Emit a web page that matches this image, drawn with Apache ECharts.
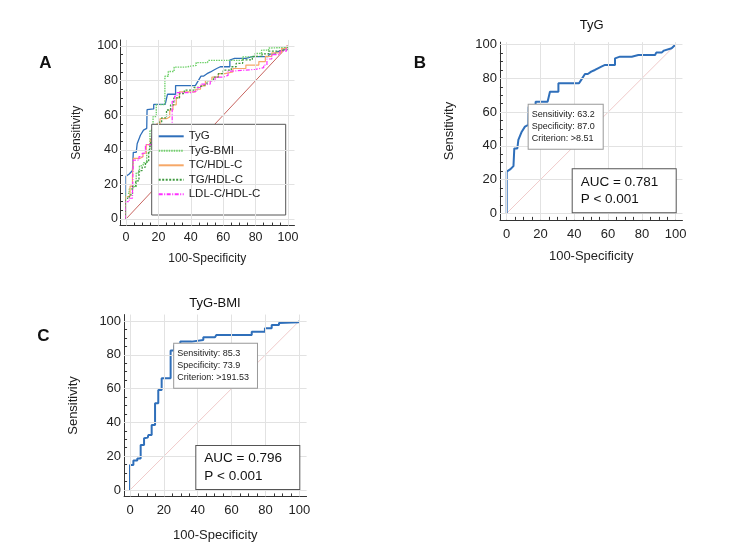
<!DOCTYPE html>
<html><head><meta charset="utf-8">
<script src="https://cdn.jsdelivr.net/npm/echarts@6/dist/echarts.min.js"></script>
<style>html,body{margin:0;padding:0;background:#fff}#c{width:753px;height:559px}</style>
</head><body><div id="c"></div>
<script>
// ---- data ----
const majorTicks = [0, 20, 40, 60, 80, 100];
const minorTicks = [5, 10, 15, 25, 30, 35, 45, 50, 55, 65, 70, 75, 85, 90, 95];
const seriesNames = ['TyG', 'TyG-BMI', 'TC/HDL-C', 'TG/HDL-C', 'LDL-C/HDL-C'];

const tyg = [[0,0],[0,24.7],[2,26],[4,28],[4.5,38.5],[6.3,38.5],[6.9,43.5],[8,44.5],[8.9,48.4],[10.8,51.4],[12.8,52.4],[13,63.2],[17.1,63.6],[17.1,66.2],[24.2,66.2],[25.6,72.1],[30.6,72.1],[30.6,77.1],[42.8,77.1],[44,79],[45,80],[46.3,82.6],[48,82.6],[50,84],[52.2,85],[54,86],[56,87],[58.2,88],[64.1,88],[64.1,91.9],[67,92.9],[74,92.9],[77.9,93.9],[87.8,93.9],[88.5,95.3],[91.7,95.3],[93,96.5],[97.6,97.9],[99.6,99.8],[100,100]];

const tygBmi = [[0,0],[0,14.8],[2,14.8],[2,17.4],[4.3,17.4],[4.3,18.7],[6.3,18.7],[6.3,26.6],[8.3,26.6],[8.3,30.6],[10.5,31],[10.8,32.5],[12.8,32.5],[12.8,38.5],[14.8,38.5],[14.8,51.3],[16.7,51.3],[16.7,59.2],[18.7,59.2],[18.7,66.1],[24,66.1],[24,82.5],[26.1,82.5],[26.1,85.3],[29.7,85.3],[29.7,87.8],[36.4,87.8],[36.4,88.8],[43.3,88.8],[43.3,90.4],[50.2,90.4],[51,91.7],[71.9,91.7],[71.9,93.7],[79.7,93.7],[79.7,95.7],[83.7,95.7],[83.7,97.6],[88,97.6],[88,98.8],[99.5,99.2],[100,100]];

const tcHdl = [[0,0],[0,13],[2.5,13],[2.5,19],[4,19],[4,25],[4.5,25],[4.5,35],[8.5,35],[8.5,36],[10.5,36],[10.5,38],[12.5,38],[12.5,43],[15,43],[15,46],[16.5,46],[16.5,51],[19,51],[19,55],[21,55],[21,58],[25,58],[25,59],[27,59],[27,63],[29,63],[29,66],[31,66],[31,70],[33,70],[33,73.5],[43,73.5],[43,75],[46,75],[46,77],[49,77],[49,80],[53,80],[53,82],[57,82],[57,84],[61,84],[61,85],[66,85],[66,87],[74,87],[74,89],[82,89],[82,91],[86,91],[86,94],[90,94],[90,96],[96,96],[96,98.5],[99,98.5],[99,100],[100,100]];

const tgHdl = [[0,0],[0,12],[2,12],[2,14],[4,14],[4,19],[6,19],[6,22],[8,22],[8,28],[10,28],[10,30],[12,30],[12,33],[14,33],[14,38],[15,38],[15,43],[16,43],[16,48],[18,48],[18,53],[20,53],[20,56],[22,56],[22,58.5],[25,58.5],[25,63],[27.5,63],[27.5,66],[29.5,66],[29.5,70],[33,70],[33,72.5],[36,72.5],[36,74.5],[42,74.5],[42,76],[45,76],[45,77],[47,77],[47,78],[50,78],[50,80],[54,80],[54,82],[57,82],[57,84],[60,84],[60,86],[65,86],[65,88],[68,88],[68,90],[72,90],[72,92],[78,92],[78,94],[84,94],[84,95.5],[88,95.5],[88,97],[94,97],[94,98],[100,98],[100,100]];

const ldlHdl = [[0,0],[0,10],[2,10],[2,12],[4,12],[4,15],[4.5,15],[4.5,34],[8,34],[8,36],[10,36],[10,38],[12,38],[12,43],[16,43],[16,48],[28.5,48],[28.5,68],[30,68],[30,71],[31.5,71],[31.5,73],[40,73],[40,74],[44,74],[44,76],[46,76],[46,78],[52,78],[52,80],[55,80],[55,82],[60,82],[60,83],[63,83],[63,85.5],[66,85.5],[66,86.5],[80,86.5],[80,87.5],[85,87.5],[85,89],[87,89],[87,92.5],[90,92.5],[90,95],[95,95],[95,97],[99,97],[99,100],[100,100]];

const diagonal = [[0,0],[100,100]];
const cutTyG = { sens: 63.2, spec: 87.0, crit: '>8.51' };
const cutBmi = { sens: 85.3, spec: 73.9, crit: '>191.53' };
const aucTyG = { auc: '0.781', p: '< 0.001' };
const aucBmi = { auc: '0.796', p: '< 0.001' };

// ---- layout ----
const FONT = 'Liberation Sans, Arial, sans-serif';
const panels = [
  { x0:126, x100:288, y0:219, y100:46, xe:[-3.7,104], ye:[-3.8,103.5], lab:12.5, nm:12, xm:5, ym:2, xg:27.5, yg:37 },
  { x0:506.7, x100:675.7, y0:213.3, y100:44.7, xe:[-4,104], ye:[-3.9,101.5], lab:13, nm:13, xm:8, ym:3, xg:30.5, yg:44 },
  { x0:130, x100:299.3, y0:490, y100:321, xe:[-3.5,104.3], ye:[-3.8,103.8], lab:13, nm:13, xm:7, ym:3, xg:32, yg:44 }
];
const grids = panels.map(p => {
  const sx = (p.x100 - p.x0) / 100, sy = (p.y0 - p.y100) / 100;
  return { left: p.x0 + p.xe[0]*sx, width: (p.xe[1]-p.xe[0])*sx,
           top: p.y0 - p.ye[1]*sy, height: (p.ye[1]-p.ye[0])*sy, containLabel:false };
});
const xAxes = [], yAxes = [];
panels.forEach((p, i) => {
  const common = (ext, fs, margin) => ({
    type:'value', gridIndex:i, min:ext[0], max:ext[1],
    axisLine:{ show:true, onZero:false, lineStyle:{ color:'#333', width:1 } },
    axisTick:{ show:true, inside:true, length:5, customValues:majorTicks, lineStyle:{ color:'#333' } },
    axisLabel:{ customValues:majorTicks, fontSize:fs, color:'#222', margin:margin, fontFamily:FONT },
    splitLine:{ show:false }, minorTick:{ show:false }
  });
  const minor = (ext) => ({
    type:'value', gridIndex:i, min:ext[0], max:ext[1],
    axisLine:{ show:false, onZero:false }, axisLabel:{ show:false }, splitLine:{ show:false },
    axisTick:{ show:true, inside:true, length:3, customValues:minorTicks, lineStyle:{ color:'#333' } }
  });
  xAxes.push(Object.assign(common(p.xe, p.lab, p.xm), { position:'bottom', name:'100-Specificity', nameLocation:'middle', nameGap:p.xg,
    nameTextStyle:{ fontSize:p.nm, color:'#222', fontFamily:FONT } }));
  xAxes.push(Object.assign(minor(p.xe), { position:'bottom' }));
  yAxes.push(Object.assign(common(p.ye, p.lab, p.ym), { position:'left', name:'Sensitivity', nameLocation:'middle', nameGap:p.yg,
    nameTextStyle:{ fontSize:p.nm, color:'#222', fontFamily:FONT } }));
  yAxes.push(Object.assign(minor(p.ye), { position:'left' }));
});

const gridLineData = majorTicks.map(v => ({ xAxis:v })).concat(majorTicks.map(v => ({ yAxis:v })));
function diagSeries(i, color, width) {
  return { type:'line', name:'ref' + i, xAxisIndex:i*2, yAxisIndex:i*2, data:diagonal, symbol:'none', z:1,
    lineStyle:{ color:color, width:width }, silent:true, animation:false,
    markLine:{ silent:true, symbol:['none','none'], label:{ show:false }, animation:false,
      lineStyle:{ color:'#e2e2e2', width:1, type:'solid' }, data:gridLineData } };
}
function curve(i, name, data, color, width, type) {
  return { type:'line', name:name, xAxisIndex:i*2, yAxisIndex:i*2, data:data, symbol:'none', showSymbol:false,
    z:2, animation:false, lineStyle:{ color:color, width:width, type:type || 'solid' }, itemStyle:{ color:color } };
}
function cutLabel(c) {
  return { coord:[100 - c.spec, c.sens], symbolSize:0,
    label:{ show:true, position:[0,-2], align:'left', verticalAlign:'top',
      formatter:'Sensitivity: ' + c.sens.toFixed(1) + '\nSpecificity: ' + c.spec.toFixed(1) + '\nCriterion: ' + c.crit,
      fontSize:9, lineHeight:12, color:'#222', fontFamily:FONT, backgroundColor:'#fff',
      borderColor:'#999', borderWidth:1, padding:[4,8,4,3] } };
}
function aucLabel(a) {
  return { coord:[100, 0], symbolSize:0,
    label:{ show:true, position:[-103,-1], align:'left', verticalAlign:'bottom', width:79,
      formatter:'AUC = ' + a.auc + '\nP ' + a.p,
      fontSize:13.5, lineHeight:17.5, color:'#111', fontFamily:FONT, backgroundColor:'#fff',
      borderColor:'#555', borderWidth:1, padding:[4,16,4,8] } };
}
const blue = '#2f6fba';
const series = [
  diagSeries(0, '#c8645f', 1),
  curve(0, 'TyG', tyg, blue, 1.3),
  curve(0, 'TyG-BMI', tygBmi, '#6fd06a', 1.4, [1.5,1]),
  curve(0, 'TC/HDL-C', tcHdl, '#f6a868', 1.2),
  curve(0, 'TG/HDL-C', tgHdl, '#3f9a3f', 1.3, [2,1.5]),
  curve(0, 'LDL-C/HDL-C', ldlHdl, '#ff30ff', 1.2, [4,1.5,1,1.5]),
  diagSeries(1, '#ecbcbc', 0.8),
  Object.assign(curve(1, 'TyG (B)', tyg, blue, 2), { markPoint:{ symbol:'rect', symbolSize:0, silent:true, animation:false, data:[cutLabel(cutTyG), aucLabel(aucTyG)] } }),
  diagSeries(2, '#ecbcbc', 0.8),
  Object.assign(curve(2, 'TyG-BMI (C)', tygBmi, blue, 2), { markPoint:{ symbol:'rect', symbolSize:0, silent:true, animation:false, data:[cutLabel(cutBmi), aucLabel(aucBmi)] } })
];

const txt = (x, y, s, size, weight) => ({ type:'text', x:x, y:y, z:10,
  style:{ text:s, fontSize:size, fontWeight:weight || 'normal', fontFamily:FONT, fill:'#111', align:'center', verticalAlign:'middle' } });

const chart = echarts.init(document.getElementById('c'), null, { renderer:'canvas' });
chart.setOption({
  animation:false,
  backgroundColor:'#fff',
  textStyle:{ fontFamily:FONT },
  grid:grids,
  xAxis:xAxes,
  yAxis:yAxes,
  legend:{ data:seriesNames, orient:'vertical', left:151.7, top:124.3, itemWidth:25, itemHeight:14, itemGap:2.5,
    padding:[6,6,6,6], selectedMode:false, z:6, itemStyle:{ opacity:0 },
    textStyle:{ fontSize:11.5, color:'#222', fontFamily:FONT } },
  graphic:[
    { type:'rect', z:5, shape:{ x:151.7, y:124.3, width:134, height:90.7 }, style:{ fill:'#fff', stroke:'#555', lineWidth:1 } },
    txt(45.3, 63.3, 'A', 17, 'bold'),
    txt(420, 63.3, 'B', 17, 'bold'),
    txt(43.3, 336, 'C', 17, 'bold'),
    txt(591.7, 25, 'TyG', 13),
    txt(215, 303.3, 'TyG-BMI', 13)
  ],
  series:series
});
</script></body></html>
